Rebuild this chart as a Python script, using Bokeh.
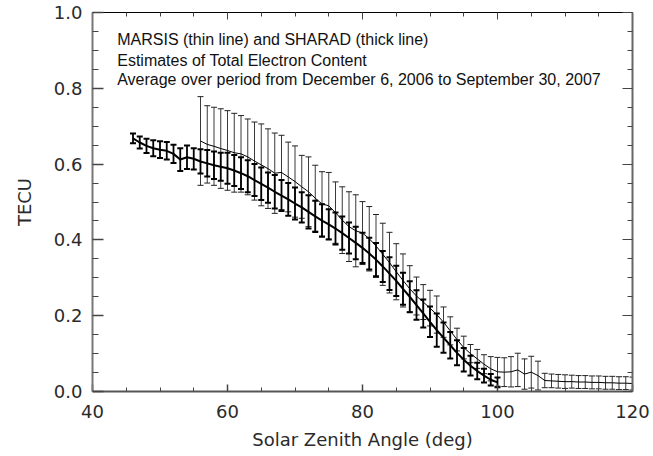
from bokeh.plotting import figure
from bokeh.models import (ColumnDataSource, Whisker, TeeHead, Range1d, LinearAxis,
                          FixedTicker, Label, PrintfTickFormatter, CustomJSTickFormatter)
from bokeh.embed import file_html
from bokeh.resources import INLINE

# ---------------- data ----------------
sharad_sza = [46, 47, 48, 49, 50, 51, 52, 53, 54, 55, 56, 57, 58, 59, 60, 61, 62, 63, 64, 65,
              66, 67, 68, 69, 70, 71, 72, 73, 74, 75, 76, 77, 78, 79, 80, 81, 82, 83, 84, 85,
              86, 87, 88, 89, 90, 91, 92, 93, 94, 95, 96, 97, 98, 99, 100]
sharad_tec = [0.668, 0.657, 0.648, 0.642, 0.638, 0.635, 0.627, 0.612, 0.618, 0.614,
              0.607, 0.602, 0.597, 0.593, 0.589, 0.583, 0.576, 0.568, 0.558, 0.548,
              0.538, 0.527, 0.517, 0.507, 0.496, 0.486, 0.474, 0.462, 0.451, 0.441,
              0.430, 0.418, 0.405, 0.392, 0.379, 0.364, 0.348, 0.330, 0.311, 0.292,
              0.271, 0.250, 0.228, 0.206, 0.184, 0.162, 0.142, 0.122, 0.102, 0.084,
              0.068, 0.054, 0.042, 0.031, 0.024]
sharad_err = [0.013, 0.016, 0.019, 0.021, 0.022, 0.023, 0.024, 0.030, 0.031, 0.028,
              0.032, 0.035, 0.036, 0.037, 0.041, 0.041, 0.042, 0.042, 0.042, 0.043,
              0.040, 0.044, 0.041, 0.043, 0.042, 0.040, 0.044, 0.041, 0.043, 0.040,
              0.042, 0.044, 0.041, 0.043, 0.040, 0.042, 0.044, 0.041, 0.043, 0.040,
              0.042, 0.041, 0.039, 0.037, 0.040, 0.044, 0.040, 0.035, 0.033, 0.031,
              0.026, 0.022, 0.018, 0.015, 0.013]

marsis_sza = [56, 57, 58, 59, 60, 61, 62, 63, 64, 65, 66, 67, 68, 69, 70, 71, 72, 73, 74, 75,
              76, 77, 78, 79, 80, 81, 82, 83, 84, 85, 86, 87, 88, 89, 90, 91, 92, 93, 94, 95,
              96, 97, 98, 99, 100, 101, 102, 103, 104, 105, 106, 107, 108, 109, 110, 111,
              112, 113, 114, 115, 116, 117, 118, 119, 120]
marsis_tec = [0.661, 0.652, 0.647, 0.641, 0.636, 0.630, 0.627, 0.619, 0.608, 0.598,
              0.588, 0.576, 0.578, 0.566, 0.554, 0.540, 0.527, 0.510, 0.495, 0.490,
              0.472, 0.452, 0.435, 0.424, 0.418, 0.403, 0.384, 0.362, 0.340, 0.316,
              0.293, 0.271, 0.252, 0.236, 0.220, 0.203, 0.183, 0.160, 0.137, 0.116,
              0.100, 0.086, 0.072, 0.060, 0.052, 0.051, 0.052, 0.057, 0.046, 0.051,
              0.042, 0.029, 0.028, 0.027, 0.026, 0.026, 0.025, 0.025, 0.024, 0.024,
              0.023, 0.023, 0.022, 0.022, 0.021]
marsis_err = [0.117, 0.102, 0.103, 0.105, 0.105, 0.104, 0.101, 0.100, 0.103, 0.108,
              0.105, 0.106, 0.098, 0.092, 0.094, 0.083, 0.092, 0.087, 0.085, 0.088,
              0.081, 0.088, 0.092, 0.095, 0.083, 0.085, 0.083, 0.082, 0.080, 0.074,
              0.070, 0.061, 0.050, 0.046, 0.047, 0.049, 0.040, 0.037, 0.030, 0.030,
              0.024, 0.025, 0.025, 0.032, 0.038, 0.038, 0.040, 0.044, 0.040, 0.042,
              0.038, 0.019, 0.018, 0.018, 0.018, 0.017, 0.017, 0.017, 0.017, 0.017,
              0.017, 0.017, 0.017, 0.017, 0.017]

x_ticks = [40, 60, 80, 100, 120]
y_ticks = [0.0, 0.2, 0.4, 0.6, 0.8, 1.0]
x_minor = [45, 50, 55, 65, 70, 75, 85, 90, 95, 105, 110, 115]
y_minor = [0.05, 0.1, 0.15, 0.25, 0.3, 0.35, 0.45, 0.5, 0.55, 0.65, 0.7, 0.75, 0.85, 0.9, 0.95]

title_lines = ["MARSIS (thin line) and SHARAD (thick line)",
               "Estimates of Total Electron Content",
               "Average over period from December 6, 2006 to September 30, 2007"]

# ---------------- sources ----------------
sh = ColumnDataSource(dict(x=sharad_sza, y=sharad_tec,
                           lo=[v - e for v, e in zip(sharad_tec, sharad_err)],
                           hi=[v + e for v, e in zip(sharad_tec, sharad_err)]))
ma = ColumnDataSource(dict(x=marsis_sza, y=marsis_tec,
                           lo=[v - e for v, e in zip(marsis_tec, marsis_err)],
                           hi=[v + e for v, e in zip(marsis_tec, marsis_err)]))

AX_FONT = "DejaVu Sans"
TXT = "#2a2a2a"

p = figure(width=650, height=454, output_backend="svg", toolbar_location=None,
           x_range=Range1d(40, 120), y_range=Range1d(0, 1.0),
           min_border_left=92, min_border_right=18, min_border_top=12, min_border_bottom=63,
           x_axis_label="Solar Zenith Angle (deg)", y_axis_label="TECU")
p.grid.visible = False
p.outline_line_color = None
p.background_fill_color = "white"
p.border_fill_color = "white"

xt = FixedTicker(ticks=x_ticks, minor_ticks=x_minor)
yt = FixedTicker(ticks=y_ticks, minor_ticks=y_minor)

for ax in p.xaxis:
    ax.ticker = xt
    ax.axis_line_color = "#555555"
    ax.axis_line_width = 2
    ax.major_tick_line_color = "#444444"
    ax.minor_tick_line_color = "#444444"
    ax.major_tick_in = 7
    ax.major_tick_out = 0
    ax.minor_tick_in = 4
    ax.minor_tick_out = 0
    ax.major_tick_line_width = 1.5
    ax.major_label_standoff = 13
    ax.major_label_text_font = AX_FONT
    ax.major_label_text_font_size = "18px"
    ax.major_label_text_color = TXT
    ax.axis_label_text_font = AX_FONT
    ax.axis_label_text_font_size = "18px"
    ax.axis_label_text_font_style = "normal"
    ax.axis_label_text_color = TXT
    ax.axis_label_standoff = 8

for ax in p.yaxis:
    ax.ticker = yt
    ax.formatter = PrintfTickFormatter(format="%.1f")
    ax.axis_line_color = "#777777"
    ax.axis_line_width = 2
    ax.major_tick_line_color = "#444444"
    ax.minor_tick_line_color = "#444444"
    ax.major_tick_in = 11
    ax.major_tick_out = 0
    ax.minor_tick_in = 6
    ax.minor_tick_out = 0
    ax.major_tick_line_width = 1.5
    ax.major_label_standoff = 10
    ax.major_label_text_font = AX_FONT
    ax.major_label_text_font_size = "18px"
    ax.major_label_text_color = TXT
    ax.axis_label_text_font = AX_FONT
    ax.axis_label_text_font_size = "18px"
    ax.axis_label_text_font_style = "normal"
    ax.axis_label_text_color = TXT
    ax.axis_label_standoff = 16

blank = CustomJSTickFormatter(code="return ''")
top = LinearAxis(ticker=xt, formatter=blank, axis_line_color="black", axis_line_width=1.2,
                 major_tick_in=7, major_tick_out=0, minor_tick_in=4, minor_tick_out=0,
                 major_tick_line_color="#444444", minor_tick_line_color="#444444",
                 major_label_standoff=0)
right = LinearAxis(ticker=yt, formatter=blank, axis_line_color="#666666", axis_line_width=2,
                   major_tick_in=10, major_tick_out=0, minor_tick_in=5, minor_tick_out=0,
                   major_tick_line_color="#444444", minor_tick_line_color="#444444",
                   major_label_standoff=0)
p.add_layout(top, "above")
p.add_layout(right, "right")

# MARSIS: thin line + thin error bars
p.add_layout(Whisker(source=ma, base="x", upper="hi", lower="lo", dimension="height",
                     line_color="#3a3a3a", line_width=1,
                     upper_head=TeeHead(size=6, line_color="#222222", line_width=1),
                     lower_head=TeeHead(size=6, line_color="#222222", line_width=1)))
p.line("x", "y", source=ma, line_color="black", line_width=1)

# SHARAD: thick line + thick error bars
p.add_layout(Whisker(source=sh, base="x", upper="hi", lower="lo", dimension="height",
                     line_color="black", line_width=1.8,
                     upper_head=TeeHead(size=6, line_color="black", line_width=2),
                     lower_head=TeeHead(size=6, line_color="black", line_width=2)))
p.line("x", "y", source=sh, line_color="black", line_width=2)

# annotation text
title_y = [0.930, 0.873, 0.823]
for txt, yy in zip(title_lines, title_y):
    p.add_layout(Label(x=43.66, y=yy, text=txt, text_font="Liberation Sans",
                       text_font_size="16px", text_color="#111111",
                       text_baseline="alphabetic"))

open("out.html", "w").write(file_html(p, INLINE))
